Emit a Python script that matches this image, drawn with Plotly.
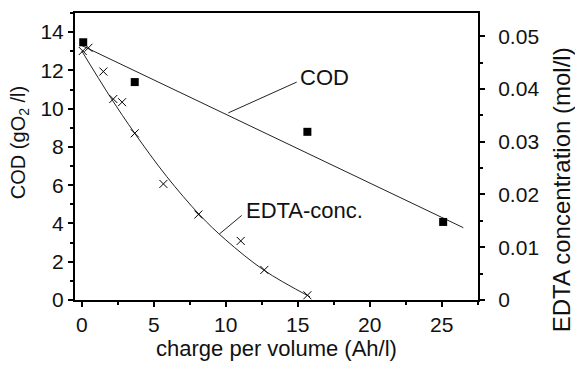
import plotly.graph_objects as go

# ---- data ----
cod_x = [0.1, 3.68, 15.67, 25.1]
cod_y = [13.47, 11.39, 8.79, 4.08]

cod_fit_x = [0.0, 26.5]
cod_fit_y = [13.3, 3.78]

edta_x = [0.07, 0.46, 1.5, 2.19, 2.8, 3.68, 5.67, 8.1, 11.04, 12.68, 15.67]
edta_y = [0.0472, 0.0478, 0.0433, 0.0381, 0.0375, 0.0316, 0.0220, 0.0162, 0.0112, 0.0057, 0.0009]

edta_fit_x = [0.0, 2.0, 3.68, 5.9, 8.2, 10.0, 12.68, 15.85]
edta_fit_y = [0.0472, 0.0384, 0.0316, 0.0234, 0.0161, 0.0114, 0.0056, 0.0006]

x_ticks = [0, 5, 10, 15, 20, 25]
y_ticks = [0, 2, 4, 6, 8, 10, 12, 14]
y2_ticks = [0, 0.01, 0.02, 0.03, 0.04, 0.05]
y2_labels = ["0", "0.01", "0.02", "0.03", "0.04", "0.05"]

FONT = "Liberation Sans, Arial, sans-serif"
TXT = "#111"

fig = go.Figure()
fig.add_trace(go.Scatter(x=cod_fit_x, y=cod_fit_y, mode="lines",
                         line=dict(color="#222", width=1), showlegend=False))
fig.add_trace(go.Scatter(x=cod_x, y=cod_y, mode="markers",
                         marker=dict(symbol="square", size=8, color="black"),
                         showlegend=False))
fig.add_trace(go.Scatter(x=edta_fit_x, y=edta_fit_y, mode="lines", yaxis="y2",
                         line=dict(color="#222", width=1, shape="spline"),
                         showlegend=False))
fig.add_trace(go.Scatter(x=edta_x, y=edta_y, mode="markers", yaxis="y2",
                         marker=dict(symbol="x-thin", size=8,
                                     line=dict(color="black", width=1)),
                         showlegend=False))

# leader lines for labels
fig.add_shape(type="line", xref="x", yref="y", x0=10.18, y0=9.78, x1=14.93, y1=11.39,
              line=dict(color="#222", width=1))
fig.add_shape(type="line", xref="x", yref="y", x0=9.56, y0=3.45, x1=11.11, y1=4.42,
              line=dict(color="#222", width=1))
fig.add_annotation(x=15.0, y=11.65, xref="x", yref="y", text="COD", showarrow=False,
                   xanchor="left", yanchor="middle", font=dict(size=22, color=TXT, family=FONT))
fig.add_annotation(x=11.3, y=4.68, xref="x", yref="y", text="EDTA-conc.", showarrow=False,
                   xanchor="left", yanchor="middle", font=dict(size=22, color=TXT, family=FONT))

# axis titles (placed as rotated annotations to match the reference position)
fig.add_annotation(x=-0.139, y=0.55, xref="paper", yref="paper", text="COD (gO<sub>2</sub> /l)",
                   showarrow=False, textangle=-90, xanchor="center", yanchor="middle",
                   font=dict(size=20, color=TXT, family=FONT))
fig.add_annotation(x=1.208, y=0.385, xref="paper", yref="paper", text="EDTA concentration (mol/l)",
                   showarrow=False, textangle=-90, xanchor="center", yanchor="middle",
                   font=dict(size=24, color=TXT, family=FONT))

axis_common = dict(showline=True, linecolor="black", linewidth=2, ticks="outside",
                   ticklen=5, tickwidth=2, tickcolor="black", showgrid=False, zeroline=False,
                   tickfont=dict(size=21, color=TXT, family=FONT))

fig.update_layout(
    width=575, height=367,
    margin=dict(l=75, r=97, t=11, b=62),
    paper_bgcolor="white", plot_bgcolor="white",
    xaxis=dict(range=[-0.47, 27.52], tickvals=x_ticks, mirror=True,
               minor=dict(tick0=0, dtick=2.5, ticklen=3, tickwidth=2, tickcolor="black", ticks="outside"),
               title=dict(text="charge per volume (Ah/l)", font=dict(size=22, color=TXT, family=FONT), standoff=4),
               **axis_common),
    yaxis=dict(range=[0, 15], tickvals=y_ticks,
               minor=dict(tick0=0, dtick=1, ticklen=3, tickwidth=2, tickcolor="black", ticks="outside"),
               **axis_common),
    yaxis2=dict(range=[0, 0.0544], tickvals=y2_ticks, ticktext=y2_labels, overlaying="y", side="right",
                minor=dict(tick0=0, dtick=0.005, ticklen=3, tickwidth=2, tickcolor="black", ticks="outside"),
                ticklabelstandoff=9,
                **axis_common),
)

fig.write_html("out.html")
